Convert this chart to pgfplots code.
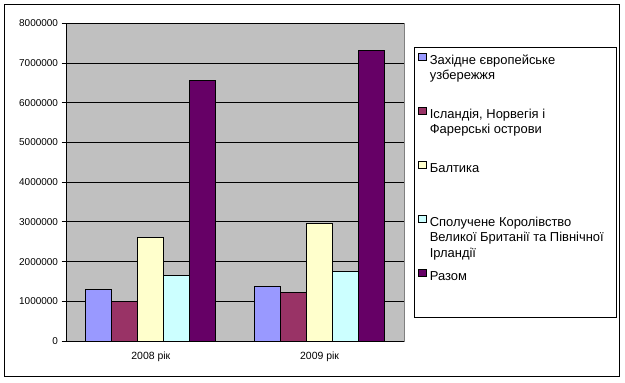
\documentclass[border=0pt]{standalone}
\usepackage{fontspec}
\setmainfont{Liberation Sans}
\usepackage{pgfplots}
\usepackage{pgfplotstable}
\pgfplotsset{compat=1.18}
\definecolor{bgray}{HTML}{C0C0C0}
\definecolor{cA}{HTML}{9999FF}
\definecolor{cB}{HTML}{993366}
\definecolor{cC}{HTML}{FFFFCC}
\definecolor{cD}{HTML}{CCFFFF}
\definecolor{cE}{HTML}{660066}
\pgfplotstableread{
x s1 s2 s3 s4 s5
0 1300000 1000000 2610000 1650000 6570000
1 1385000 1225000 2960000 1755000 7320000
}\datatable
\begin{document}
\begin{tikzpicture}[x=1bp,y=1bp]
\path (0,0) rectangle (625,382);
\draw[line width=1.3bp] (4.3,5.8) rectangle (619.3,377.3);
\begin{axis}[
  at={(66.5bp,41bp)}, anchor=south west,
  width=337.5bp, height=317.7bp, scale only axis,
  xmin=-0.5, xmax=1.5, ymin=0, ymax=8000000,
  ybar=0pt, bar width=26bp,
  axis background/.style={fill=bgray, draw=gray},
  axis x line*=bottom, axis y line*=left,
  axis line style={black, line width=1bp},
  tick align=outside,
  xtick={0,1}, xticklabels={2008 рік, 2009 рік},
  x tick style={draw=none},
  extra x ticks={-0.5,0.5,1.5}, extra x tick labels={},
  extra x tick style={major tick length=5bp, tick style={black, line width=1bp}, grid=none},
  ytick={0,1000000,...,8000000},
  y tick style={black, line width=1bp},
  major tick length=5bp,
  scaled y ticks=false,
  yticklabel style={/pgf/number format/fixed, /pgf/number format/1000 sep={}},
  /pgf/number format/assume math mode=true,
  ticklabel style={font=\fontsize{10}{12}\selectfont},
  xticklabel style={yshift=-2bp, font=\fontsize{10.5}{12}\selectfont},
  ymajorgrids, major grid style={black, line width=1bp},
  every axis plot/.append style={draw=black, line width=1bp},
  legend style={
    at={(axis description cs:1.0305,0.9263)}, anchor=north west,
    draw=black, line width=1bp, fill=white,
    inner xsep=3bp, inner ysep=0bp, row sep=0bp,
    font=\fontsize{13}{15.5}\selectfont,
    nodes={inner sep=1bp, text height=16bp, text depth=36bp},
  },
  legend cell align=left,
  legend image code/.code={\draw[#1, line width=0.8bp] (1bp,13.8bp) rectangle (8.5bp,21.3bp);
    \path[draw=none,fill=none] (0bp,15bp) -- (11bp,15bp);},
]
\addplot[fill=cA] table[x=x,y=s1]{\datatable};
\addlegendentry{\parbox[t]{183bp}{\raggedright Західне європейське\\узбережжя}}
\addplot[fill=cB] table[x=x,y=s2]{\datatable};
\addlegendentry{\parbox[t]{183bp}{\raggedright Ісландія, Норвегія і\\Фарерські острови}}
\addplot[fill=cC] table[x=x,y=s3]{\datatable};
\addlegendentry{\parbox[t]{183bp}{\raggedright Балтика}}
\addplot[fill=cD] table[x=x,y=s4]{\datatable};
\addlegendentry{\parbox[t]{183bp}{\raggedright Сполучене Королівство\\Великої Британії та Північної\\Ірландії}}
\addplot[fill=cE] table[x=x,y=s5]{\datatable};
\addlegendentry{\parbox[t]{183bp}{\raggedright Разом}}
\end{axis}
\end{tikzpicture}
\end{document}
